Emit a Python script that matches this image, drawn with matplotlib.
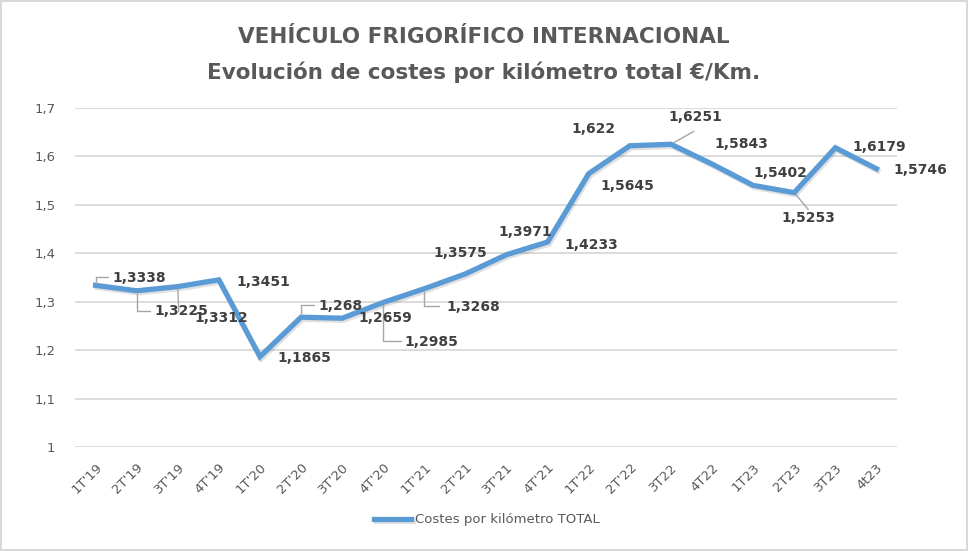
import matplotlib
matplotlib.use('Agg')
import matplotlib.pyplot as plt
import matplotlib.patheffects as pe
from matplotlib.ticker import FuncFormatter

# datos del gráfico
trimestres = ["1T'19", "2T'19", "3T'19", "4T'19", "1T'20", "2T'20", "3T'20", "4T'20",
              "1T'21", "2T'21", "3T'21", "4T'21", "1T'22", "2T'22", "3T22", "4T22",
              "1T23", "2T23", "3T23", "4t23"]
costes_km = [1.3338, 1.3225, 1.3312, 1.3451, 1.1865, 1.268, 1.2659, 1.2985,
             1.3268, 1.3575, 1.3971, 1.4233, 1.5645, 1.622, 1.6251, 1.5843,
             1.5402, 1.5253, 1.6179, 1.5746]

# posición de cada etiqueta respecto al punto (píxeles, y hacia arriba)
offsets_etiqueta = [(44, 7), (45, -20), (44, -31), (45, -2), (44, -1), (39, 11),
                    (43, 0), (48, -40), (49, -18), (-5, 21), (19, 23), (44, -3),
                    (39, -12), (-36, 17), (24, 27), (29, 20), (27, 12), (14, -25),
                    (44, 1), (44, -1)]
# líneas guía: índice -> (extremo, estilo de conexión)
lineas_guia = {
    0: ((12, 8), 'angle,angleA=0,angleB=90,rad=0'),
    1: ((13, -20), 'angle,angleA=0,angleB=90,rad=0'),
    2: ((1, -25), 'arc3'),
    5: ((13, 12), 'angle,angleA=0,angleB=90,rad=0'),
    7: ((18, -39), 'angle,angleA=0,angleB=90,rad=0'),
    8: ((15, -17), 'angle,angleA=0,angleB=90,rad=0'),
    14: ((23, 13), 'arc3'),
    17: ((14, -17), 'arc3'),
}

gris_texto = '#595959'
gris_rejilla = '#d9d9d9'
azul = '#5b9bd5'

fig = plt.figure(figsize=(9.68, 5.51), dpi=100)
fig.patch.set_edgecolor(gris_rejilla)
fig.patch.set_linewidth(1.5)
ax = fig.add_axes([75 / 968, 1 - 447 / 551, 822 / 968, 339 / 551])

x = list(range(len(trimestres)))
linea, = ax.plot(x, costes_km, color=azul, linewidth=3.8, solid_joinstyle='miter',
                 label='Costes por kilómetro TOTAL', zorder=3,
                 path_effects=[pe.SimpleLineShadow(offset=(1, -1.5), alpha=0.12, shadow_color='black'),
                               pe.Normal()])

for i, (xi, v) in enumerate(zip(x, costes_km)):
    dx, dy = offsets_etiqueta[i]
    ax.annotate(f"{v:g}".replace('.', ','), xy=(xi, v), xytext=(dx, dy),
                textcoords='offset pixels', ha='center', va='center',
                fontsize=10, fontweight='bold', color='#404040', zorder=5)
    if i in lineas_guia:
        (ex, ey), estilo = lineas_guia[i]
        ax.annotate('', xy=(xi, v), xytext=(ex, ey), textcoords='offset pixels',
                    arrowprops=dict(arrowstyle='-', color='#a6a6a6', lw=1,
                                    shrinkA=0, shrinkB=2, connectionstyle=estilo),
                    zorder=4)

ax.set_xlim(-0.5, len(trimestres) - 0.5)
ax.set_ylim(1, 1.7)
ax.set_yticks([1 + 0.1 * k for k in range(8)])
ax.yaxis.set_major_formatter(FuncFormatter(lambda v, p: f"{v:.1f}".replace('.', ',').replace(',0', '')))
ax.set_xticks(x)
ax.set_xticklabels(trimestres, rotation=45, ha='right', rotation_mode='anchor')
ax.tick_params(axis='both', length=0, colors=gris_texto, labelsize=9.5)
ax.tick_params(axis='y', pad=14)
ax.tick_params(axis='x', pad=10)
ax.grid(axis='y', color=gris_rejilla, linewidth=1.3)
ax.set_axisbelow(True)
for s in ax.spines.values():
    s.set_visible(False)

fig.text(0.5, 1 - 37 / 551, 'VEHÍCULO FRIGORÍFICO INTERNACIONAL', ha='center', va='center',
         fontsize=15.5, fontweight='bold', color=gris_texto)
fig.text(0.5, 1 - 72 / 551, 'Evolución de costes por kilómetro total €/Km.', ha='center', va='center',
         fontsize=15.5, fontweight='bold', color=gris_texto)

fig.legend(handles=[linea], loc='center', bbox_to_anchor=(487 / 968, 1 - 520 / 551),
           frameon=False, fontsize=9.5, labelcolor=gris_texto, handlelength=2.8,
           handletextpad=0.3)

fig.savefig('out.png', dpi=100)
